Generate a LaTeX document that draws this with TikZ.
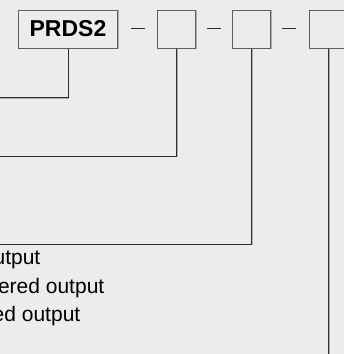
\documentclass[tikz,border=0pt]{standalone}
\usepackage{fontspec}
\setmainfont{Liberation Sans}
\definecolor{bg}{RGB}{235,237,236}
\definecolor{linec}{RGB}{45,45,45}
\definecolor{boxc}{RGB}{95,95,95}
\definecolor{shade}{RGB}{175,175,175}
\begin{document}
\begin{tikzpicture}[x=1pt,y=-1pt,
  shadowed/.style={preaction={draw=shade,line width=1pt,transform canvas={shift={(0.9pt,-0.9pt)}}}},
  box/.style={draw=boxc,line width=1pt,fill=bg,inner sep=0pt,minimum height=38pt,shadowed},
  conn/.style={draw=linec,line width=1pt,shadowed},
  dashline/.style={draw=linec,line width=0.9pt},
  lbl/.style={inner sep=0pt,font=\fontsize{21}{25}\selectfont,text=black,anchor=base east}]
\useasboundingbox (0,0) rectangle (344,354);
\clip (0,0) rectangle (344,354);
\fill[bg] (0,0) rectangle (344,354);
% boxes
\node[box,minimum width=99pt,font=\fontsize{23}{27}\bfseries] (p) at (68,29) {PRDS2};
\node[box,minimum width=38pt] (b2) at (176.5,29) {};
\node[box,minimum width=38pt] (b3) at (251.5,29) {};
\node[box,minimum width=38pt] (b4) at (328.3,29) {};
% dashes
\coordinate (d1a) at (131,28.3); \coordinate (d1b) at (145,28.3);
\coordinate (d2a) at (206.7,28.3); \coordinate (d2b) at (220.7,28.3);
\coordinate (d3a) at (282.3,28.3); \coordinate (d3b) at (296.3,28.3);
\draw[dashline] (d1a) -- (d1b);
\draw[dashline] (d2a) -- (d2b);
\draw[dashline] (d3a) -- (d3b);
% connector ends
\coordinate (e1) at (-5,97.7);
\coordinate (e2) at (-5,156);
\coordinate (e3) at (-5,244);
\coordinate (e4) at (328.3,360);
\draw[conn] (p.south) |- (e1);
\draw[conn] (b2.south) |- (e2);
\draw[conn] (b3.south) |- (e3);
\draw[conn] (b4.south) -- (e4);
% labels
\node[lbl] (t1) at (40.5,264.5) {utput};
\node[lbl] (t2) at (104.5,293) {ered output};
\node[lbl] (t3) at (80.5,321.5) {ed output};
\end{tikzpicture}
\end{document}
